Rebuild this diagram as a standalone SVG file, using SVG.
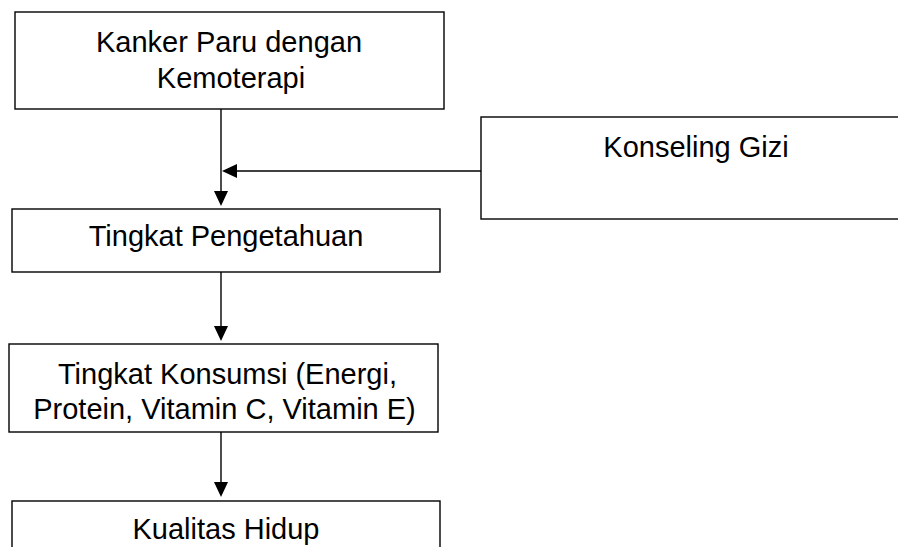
<svg xmlns="http://www.w3.org/2000/svg" width="898" height="547" viewBox="0 0 898 547">
<style>
.box{fill:#fff;stroke:#000;stroke-width:1.4}
.lbl{font-family:"Liberation Sans",Arial,sans-serif;font-size:29px;fill:#000;text-anchor:middle}
.con{stroke:#000;stroke-width:1.4;fill:none}
.head{fill:#000;stroke:none}
</style>
<rect width="898" height="547" fill="#fff"/>
<g id="connectors">
<line class="con" x1="221" y1="109" x2="221" y2="192"/>
<polygon class="head" points="214,191 228,191 221,206"/>
<line class="con" x1="481" y1="171" x2="236" y2="171"/>
<polygon class="head" points="237,164 237,178 222,171"/>
<line class="con" x1="221" y1="272" x2="221" y2="327"/>
<polygon class="head" points="214,326 228,326 221,341"/>
<line class="con" x1="221" y1="432" x2="221" y2="483"/>
<polygon class="head" points="214,482 228,482 221,497"/>
</g>
<g id="kanker">
<rect class="box" x="15" y="12" width="429" height="97"/>
<text class="lbl" x="229" y="52">Kanker Paru dengan</text>
<text class="lbl" x="231" y="88">Kemoterapi</text>
</g>
<g id="konseling">
<rect class="box" x="481" y="117" width="440" height="102"/>
<text class="lbl" x="696" y="157">Konseling Gizi</text>
</g>
<g id="pengetahuan">
<rect class="box" x="12" y="209" width="428" height="63"/>
<text class="lbl" x="226" y="246">Tingkat Pengetahuan</text>
</g>
<g id="konsumsi">
<rect class="box" x="9" y="344" width="429" height="88"/>
<text class="lbl" x="227.5" y="383.5">Tingkat Konsumsi (Energi,</text>
<text class="lbl" x="224.5" y="418.5">Protein, Vitamin C, Vitamin E)</text>
</g>
<g id="kualitas">
<rect class="box" x="12" y="501" width="428" height="70"/>
<text class="lbl" x="226" y="539">Kualitas Hidup</text>
</g>
</svg>
